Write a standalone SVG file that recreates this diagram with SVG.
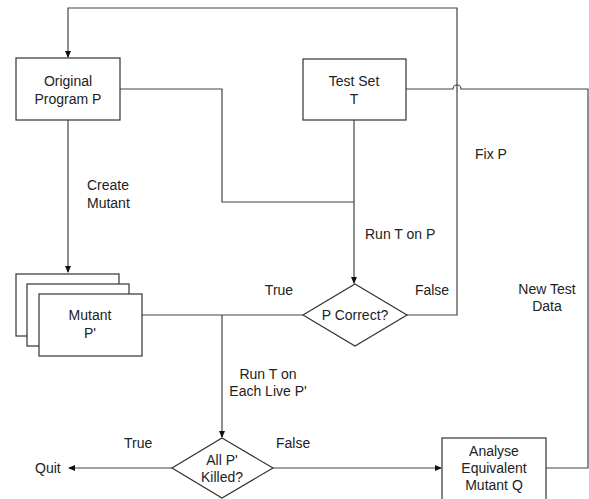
<svg xmlns="http://www.w3.org/2000/svg" width="589" height="499" viewBox="0 0 589 499">
<style>
.box{fill:#fff;stroke:#333;stroke-width:1.2}
.ln{fill:none;stroke:#444;stroke-width:1.2}
text{font-family:"Liberation Sans",Arial,sans-serif;font-size:14px;fill:#222}
.c{text-anchor:middle}
</style>
<defs>
<marker id="ah" markerWidth="7" markerHeight="6" refX="6" refY="3" orient="auto" markerUnits="userSpaceOnUse">
<path d="M0,0 L7,3 L0,6 Z" fill="#111"/>
</marker>
</defs>
<rect width="589" height="499" fill="#fff"/>
<g id="connectors">
<path class="ln" d="M407,315 H457 V8 H68 V57" marker-end="url(#ah)"/>
<path class="ln" d="M120,89 H222 V202 H354"/>
<path class="ln" d="M354,120 V283" marker-end="url(#ah)"/>
<path class="ln" d="M406,89 H453 A4,4 0 0 1 461,89 H588 V468 H546"/>
<path class="ln" d="M68,120 V272" marker-end="url(#ah)"/>
<path class="ln" d="M142,315 H303"/>
<path class="ln" d="M222,315 V437" marker-end="url(#ah)"/>
<path class="ln" d="M172,468 H69" marker-end="url(#ah)"/>
<path class="ln" d="M273,468 H441" marker-end="url(#ah)"/>
</g>
<g id="labels">
<text x="87" y="190">Create</text>
<text x="87" y="208">Mutant</text>
<text x="365" y="239">Run T on P</text>
<text x="475" y="159">Fix P</text>
<text x="279" y="295" class="c">True</text>
<text x="432" y="295" class="c">False</text>
<text class="c" x="547" y="294">New Test</text>
<text class="c" x="547" y="311">Data</text>
<text class="c" x="268" y="379">Run T on</text>
<text class="c" x="268" y="396">Each Live P'</text>
<text x="124" y="448">True</text>
<text x="276" y="448">False</text>
<text x="35" y="473">Quit</text>
</g>
<g id="original">
<rect class="box" x="16" y="58" width="104" height="62"/>
<text class="c" x="68" y="86">Original</text>
<text class="c" x="68" y="104">Program P</text>
</g>
<g id="testset">
<rect class="box" x="303" y="59" width="103" height="61"/>
<text class="c" x="354" y="86">Test Set</text>
<text class="c" x="354" y="104">T</text>
</g>
<g id="mutant">
<rect class="box" x="16" y="274" width="103" height="62"/>
<rect class="box" x="27" y="284" width="102" height="62"/>
<rect class="box" x="39" y="294" width="103" height="62"/>
<text class="c" x="90" y="320">Mutant</text>
<text class="c" x="90" y="338">P'</text>
</g>
<g id="pcorrect">
<polygon class="box" points="355,284 407,315 355,346 303,315"/>
<text class="c" x="355" y="320">P Correct?</text>
</g>
<g id="allkilled">
<polygon class="box" points="222,438 273,468 222,498 172,468"/>
<text class="c" x="222" y="465">All P'</text>
<text class="c" x="222" y="482">Killed?</text>
</g>
<g id="analyse">
<rect class="box" x="442" y="438" width="104" height="70"/>
<text class="c" x="494" y="456">Analyse</text>
<text class="c" x="494" y="473">Equivalent</text>
<text class="c" x="494" y="490">Mutant Q</text>
</g>
</svg>
